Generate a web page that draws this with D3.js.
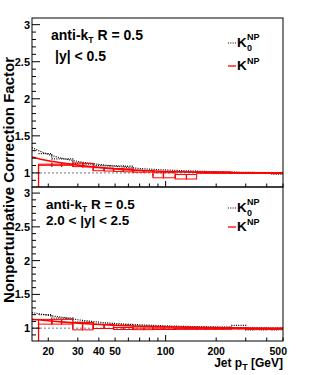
<!DOCTYPE html>
<html>
<head>
<meta charset="utf-8">
<script src="https://cdn.jsdelivr.net/npm/d3@7"></script>
<style>
  body { margin: 0; background: #fff; }
  svg { display: block; }
  text { font-family: "Liberation Sans", Arial, sans-serif; font-weight: bold; fill: #000; }
</style>
</head>
<body>
<div id="chart"></div>
<script>
// bin edges in jet pT [GeV]
const ptEdges = [17.5, 21, 24, 28, 32, 37, 43, 49, 56, 64, 74, 84, 97, 114, 133, 153, 174,
  196, 220, 245, 272, 300, 330, 362, 395, 430, 468, 500];

const xTicks = [20, 30, 40, 50, 60, 70, 80, 90, 100, 200, 300, 400, 500];
const xTickLabels = [20, 30, 40, 50, 100, 200, 500];
const yTickLabels = [1, 1.5, 2, 2.5, 3];

// |y| < 0.5
const topK0 = [1.26, 1.19, 1.19, 1.13, 1.12, 1.10, 1.095, 1.095, 1.09, 1.035, 1.03, 1.015, 1.015,
  1.015, 1.015, 1.01, 1.01, 1.005, 1.005, 1.005, 1.0, 1.0, 1.0, 1.0, 0.995, 0.985, 0.985];
const topK = [1.11, 1.11, 1.11, 1.11, 1.105, 1.05, 1.045, 1.04, 1.035, 1.02, 1.02, 0.968, 0.968,
  0.948, 0.948, 1.005, 1.005, 1.005, 1.005, 1.0, 1.0, 1.0, 1.0, 1.0, 1.0, 0.997, 0.997];
const topKSys = [0.008, 0.008, 0.008, 0.025, 0.025, 0.02, 0.02, 0.02, 0.02, 0.01, 0.01, 0.034, 0.034,
  0.03, 0.03, 0.01, 0.01, 0.01, 0.01, 0.006, 0.006, 0.006, 0.006, 0.006, 0.006, 0.006, 0.006];
const topKErrLow = [0.45, 0.03, 0.03, 0.03, 0.03, 0.02, 0.02, 0.02, 0.02, 0.015, 0.015, 0.02, 0.02,
  0.02, 0.02, 0.01, 0.01, 0.01, 0.01, 0.01, 0.01, 0.01, 0.01, 0.01, 0.01, 0.01, 0.01];
const topKErrHigh = [0, 0.03, 0.03, 0.03, 0.03, 0.02, 0.02, 0.02, 0.02, 0.015, 0.015, 0.02, 0.02,
  0.02, 0.02, 0.01, 0.01, 0.01, 0.01, 0.01, 0.01, 0.01, 0.01, 0.01, 0.01, 0.01, 0.01];
const topK0Fit = [[16, 1.34], [18, 1.29], [20, 1.25], [25, 1.19], [30, 1.155], [40, 1.115], [50, 1.09],
  [70, 1.06], [100, 1.04], [150, 1.025], [200, 1.015], [300, 1.008], [500, 1.0]];
const topKFit = [[16, 1.215], [18, 1.185], [20, 1.165], [25, 1.13], [30, 1.105], [40, 1.075], [50, 1.055],
  [70, 1.035], [100, 1.02], [150, 1.01], [200, 1.005], [300, 1.0], [500, 0.998]];

// 2.0 < |y| < 2.5
const bottomK0 = [1.20, 1.15, 1.15, 1.09, 1.09, 1.06, 1.06, 1.05, 1.05, 1.03, 1.03, 1.02, 1.015,
  1.015, 1.015, 1.015, 1.015, 1.015, 1.015, 1.04, 1.04, 0.975, 0.98, 0.975, 0.98, 0.975, 0.98];
const bottomK = [1.095, 1.095, 1.095, 1.03, 1.03, 1.025, 1.025, 0.995, 0.995, 0.99, 0.99, 0.99, 0.99,
  0.99, 0.99, 0.99, 0.99, 0.99, 0.99, 0.995, 0.995, 0.99, 0.99, 0.99, 0.99, 0.99, 0.99];
const bottomKSys = [0.035, 0.035, 0.035, 0.055, 0.055, 0.03, 0.03, 0.015, 0.015, 0.012, 0.012, 0.01, 0.01,
  0.008, 0.008, 0.008, 0.008, 0.008, 0.008, 0.008, 0.008, 0.008, 0.008, 0.008, 0.008, 0.008, 0.008];
const bottomKErrLow = [0.4, 0.04, 0.04, 0.04, 0.04, 0.03, 0.03, 0.02, 0.02, 0.015, 0.015, 0.015, 0.015,
  0.012, 0.012, 0.012, 0.012, 0.012, 0.012, 0.012, 0.012, 0.012, 0.012, 0.012, 0.012, 0.012, 0.012];
const bottomKErrHigh = [0, 0.04, 0.04, 0.04, 0.04, 0.03, 0.03, 0.02, 0.02, 0.015, 0.015, 0.015, 0.015,
  0.012, 0.012, 0.012, 0.012, 0.012, 0.012, 0.012, 0.012, 0.012, 0.012, 0.012, 0.012, 0.012, 0.012];
const bottomK0Fit = [[16, 1.23], [18, 1.21], [20, 1.19], [25, 1.155], [30, 1.125], [40, 1.09], [50, 1.07],
  [70, 1.05], [100, 1.035], [200, 1.015], [500, 1.0]];
const bottomKFit = [[16, 1.13], [20, 1.11], [25, 1.09], [30, 1.075], [40, 1.055], [60, 1.035],
  [100, 1.02], [200, 1.005], [500, 0.998]];

const width = 315, height = 375;
const frame = {left: 32, right: 283};
const yDomain = [0.81, 3.09];

const svg = d3.select('#chart')
  .append('svg')
    .attr('width', width)
    .attr('height', height);

const x = d3.scaleLog().domain([16, 500]).range([frame.left, frame.right]);

const drawPanel = (p) => {
  const y = d3.scaleLinear().domain(yDomain).range([p.bottom, p.top]);
  const g = svg.append('g');

  svg.append('clipPath').attr('id', 'clip-' + p.name)
    .append('rect')
      .attr('x', frame.left).attr('y', p.top)
      .attr('width', frame.right - frame.left).attr('height', p.bottom - p.top);
  const plot = g.append('g').attr('clip-path', `url(#clip-${p.name})`);

  // unity reference
  plot.append('line')
    .attr('x1', x(16)).attr('x2', x(500))
    .attr('y1', y(1)).attr('y2', y(1))
    .attr('stroke', '#555').attr('stroke-width', 0.8)
    .attr('stroke-dasharray', '2,2');

  const fitLine = d3.line()
    .x(d => x(d[0]))
    .y(d => y(d[1]))
    .curve(d3.curveMonotoneX);

  // K0 fit + histogram, black dotted
  plot.append('path')
    .datum(p.k0Fit)
    .attr('fill', 'none').attr('stroke', '#000').attr('stroke-width', 1.2)
    .attr('stroke-dasharray', '1,1.3')
    .attr('d', fitLine);

  const k0Steps = p.k0.map((v, i) => [ptEdges[i], v]);
  k0Steps.push([ptEdges[ptEdges.length - 1], p.k0[p.k0.length - 1]]);
  plot.append('path')
    .datum(k0Steps)
    .attr('fill', 'none').attr('stroke', '#000').attr('stroke-width', 1.3)
    .attr('stroke-dasharray', '1,1.3')
    .attr('d', d3.line().x(d => x(d[0])).y(d => y(d[1])).curve(d3.curveStepAfter));

  // K: boxes, error bars, fit
  const bins = p.k.map((v, i) => ({
    lo: ptEdges[i], hi: ptEdges[i + 1], v,
    sys: p.kSys[i], errLow: p.kErrLow[i], errHigh: p.kErrHigh[i]
  }));

  plot.selectAll('rect.sys')
    .data(bins)
    .join('rect')
      .attr('class', 'sys')
      .attr('x', d => x(d.lo))
      .attr('width', d => x(d.hi) - x(d.lo))
      .attr('y', d => y(d.v + d.sys))
      .attr('height', d => y(d.v - d.sys) - y(d.v + d.sys))
      .attr('fill', 'none').attr('stroke', '#ff0000').attr('stroke-width', 1);

  plot.selectAll('line.err')
    .data(bins)
    .join('line')
      .attr('class', 'err')
      .attr('x1', d => x(d.lo)).attr('x2', d => x(d.lo))
      .attr('y1', d => y(d.v - d.errLow)).attr('y2', d => y(d.v + d.errHigh))
      .attr('stroke', '#ff0000').attr('stroke-width', 1.3);

  plot.append('path')
    .datum(p.kFit)
    .attr('fill', 'none').attr('stroke', '#ff0000').attr('stroke-width', 1.6)
    .attr('d', fitLine);

  // frame
  g.append('rect')
    .attr('x', frame.left).attr('y', p.top)
    .attr('width', frame.right - frame.left).attr('height', p.bottom - p.top)
    .attr('fill', 'none').attr('stroke', '#000').attr('stroke-width', 1);

  // y ticks
  const yMinor = d3.range(9, 31).map(d => d / 10);
  g.selectAll('line.ytick')
    .data(yMinor)
    .join('line')
      .attr('x1', frame.left)
      .attr('x2', d => frame.left + (yTickLabels.includes(d) ? 8 : 4))
      .attr('y1', d => y(d)).attr('y2', d => y(d))
      .attr('stroke', '#000').attr('stroke-width', 1);
  g.selectAll('text.ylab')
    .data(yTickLabels)
    .join('text')
      .attr('x', frame.left - 2)
      .attr('y', d => y(d))
      .attr('dy', '0.36em')
      .attr('text-anchor', 'end')
      .attr('font-size', 11)
      .text(d => d);

  // x ticks
  g.selectAll('line.xtick')
    .data(xTicks)
    .join('line')
      .attr('x1', d => x(d)).attr('x2', d => x(d))
      .attr('y1', p.bottom)
      .attr('y2', d => p.bottom - (d === 100 ? 6 : 3.5))
      .attr('stroke', '#000').attr('stroke-width', 1);

  // labels
  const lab = g.append('text').attr('font-size', p.labelSize);
  lab.attr('x', p.labelX).attr('y', p.labelY);
  lab.append('tspan').text('anti-k');
  lab.append('tspan').attr('font-size', 8.5).attr('dy', 2.5).text('T');
  lab.append('tspan').attr('dy', -2.5).text(' R = 0.5');
  g.append('text')
    .attr('x', p.rapX).attr('y', p.rapY)
    .attr('font-size', p.labelSize)
    .text(p.rapText);

  // legend
  const lg = g.append('g');
  lg.append('line')
    .attr('x1', 228).attr('x2', 236)
    .attr('y1', p.legY - 4).attr('y2', p.legY - 4)
    .attr('stroke', '#000').attr('stroke-dasharray', '1,1.3').attr('stroke-width', 1.2);
  lg.append('text').attr('x', 237).attr('y', p.legY).attr('font-size', 13.5).text('K');
  lg.append('text').attr('x', 247).attr('y', p.legY - 7).attr('font-size', 9).text('NP');
  lg.append('text').attr('x', 247).attr('y', p.legY + 4).attr('font-size', 9).text('0');
  lg.append('line')
    .attr('x1', 228).attr('x2', 236)
    .attr('y1', p.legY + p.legGap - 4).attr('y2', p.legY + p.legGap - 4)
    .attr('stroke', '#ff0000').attr('stroke-width', 1.3);
  lg.append('text').attr('x', 237).attr('y', p.legY + p.legGap).attr('font-size', 13.5).text('K');
  lg.append('text').attr('x', 247).attr('y', p.legY + p.legGap - 6).attr('font-size', 9).text('NP');
};

drawPanel({
  name: 'top', top: 18, bottom: 187,
  k0: topK0, k: topK, kSys: topKSys, kErrLow: topKErrLow, kErrHigh: topKErrHigh,
  k0Fit: topK0Fit, kFit: topKFit,
  labelX: 51, labelY: 40, rapX: 55, rapY: 61, rapText: '|y| < 0.5', labelSize: 14,
  legY: 47, legGap: 23
});

drawPanel({
  name: 'bottom', top: 187, bottom: 341,
  k0: bottomK0, k: bottomK, kSys: bottomKSys, kErrLow: bottomKErrLow, kErrHigh: bottomKErrHigh,
  k0Fit: bottomK0Fit, kFit: bottomKFit,
  labelX: 46, labelY: 209, rapX: 46, rapY: 225, rapText: '2.0 < |y| < 2.5', labelSize: 13.5,
  legY: 212, legGap: 19
});

// x tick labels (bottom panel only)
svg.selectAll('text.xlab')
  .data(xTickLabels)
  .join('text')
    .attr('x', d => x(d) + (d === 500 ? 4 : 0))
    .attr('y', 355)
    .attr('text-anchor', d => d === 500 ? 'end' : 'middle')
    .attr('font-size', 10.5)
    .text(d => d);

const xTitle = svg.append('text')
  .attr('x', frame.right).attr('y', 367)
  .attr('text-anchor', 'end')
  .attr('font-size', 12);
xTitle.append('tspan').text('Jet p');
xTitle.append('tspan').attr('font-size', 9).attr('dy', 3).text('T');
xTitle.append('tspan').attr('dy', -3).text(' [GeV]');

svg.append('text')
  .attr('transform', 'translate(14,57) rotate(-90)')
  .attr('text-anchor', 'end')
  .attr('font-size', 15)
  .text('Nonperturbative Correction Factor');
</script>
</body>
</html>
